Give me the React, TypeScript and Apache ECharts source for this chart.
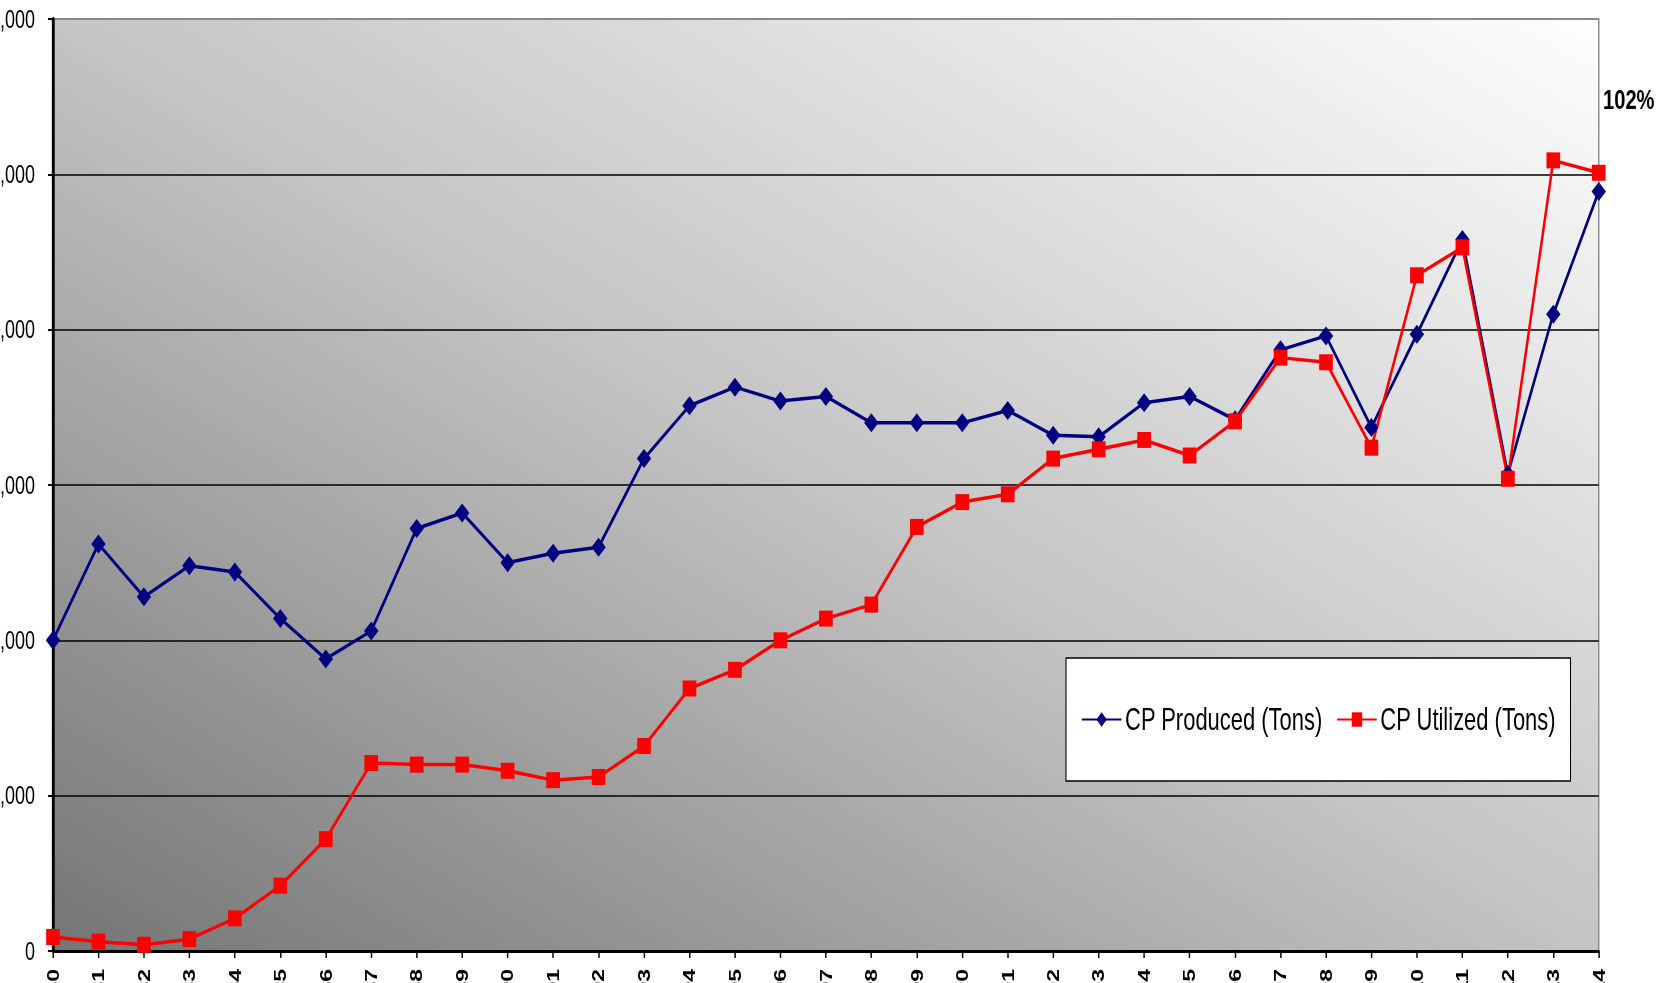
import React, { useEffect, useRef } from "react";
import * as echarts from "echarts";

// Horizontal squeeze of the whole figure (the chart is laid out wide, then compressed).
const SQUEEZE = 0.72;
const PAGE_W = 1662;
const PAGE_H = 983;
const CHART_W = PAGE_W / SQUEEZE;

const FONT = "'Liberation Sans', Arial, Helvetica, sans-serif";

const years = [
  "1980", "1981", "1982", "1983", "1984", "1985", "1986", "1987", "1988", "1989",
  "1990", "1991", "1992", "1993", "1994", "1995", "1996", "1997", "1998", "1999",
  "2000", "2001", "2002", "2003", "2004", "2005", "2006", "2007", "2008", "2009",
  "2010", "2011", "2012", "2013", "2014",
];

const cpProduced = [
  10000, 13100, 11400, 12400, 12200, 10700, 9400, 10300, 13600, 14100,
  12500, 12800, 13000, 15850, 17550, 18150, 17700, 17850, 17000, 17000,
  17000, 17400, 16600, 16550, 17650, 17850, 17100, 19350, 19800, 16850,
  19850, 22900, 15350, 20500, 24450,
];

const cpUtilized = [
  450, 300, 200, 380, 1050, 2100, 3600, 6050, 6000, 6000,
  5800, 5500, 5600, 6600, 8450, 9050, 10000, 10700, 11150, 13650,
  14450, 14700, 15850, 16150, 16450, 15950, 17050, 19100, 18950, 16200,
  21750, 22650, 15200, 25450, 25050,
];

const yMin = 0;
const yMax = 30000;
const yStep = 5000;

const seriesNames = ["CP Produced (Tons)", "CP Utilized (Tons)"];

export default function App() {
  const ref = useRef<HTMLDivElement>(null);

  useEffect(() => {
    if (!ref.current) return;
    const chart = echarts.init(ref.current, null, { renderer: "svg" });

    const last = years.length - 1;
    const ratio = Math.round((cpUtilized[last] / cpProduced[last]) * 100);

    const plotLeft = 53 / SQUEEZE;
    const plotRight = 1599 / SQUEEZE;

    chart.setOption({
      animation: false,
      grid: {
        left: plotLeft,
        right: CHART_W - plotRight,
        top: 19,
        bottom: PAGE_H - 951,
        containLabel: false,
        outerBoundsMode: "none",
        show: true,
        borderColor: "#8a8a8a",
        borderWidth: 2,
        backgroundColor: new echarts.graphic.LinearGradient(0, 1, 1, 0, [
          { offset: 0, color: "#757575" },
          { offset: 0.5, color: "#c4c4c4" },
          { offset: 1, color: "#fefefe" },
        ]),
      },
      legend: {
        data: seriesNames,
        left: 1066 / SQUEEZE,
        top: 658,
        orient: "horizontal",
        padding: [46, 20, 46, 21],
        itemGap: 19,
        itemWidth: 55,
        itemHeight: 18,
        backgroundColor: "#ffffff",
        borderColor: "#000000",
        borderWidth: 1.5,
        textStyle: { fontSize: 30.5, color: "#000000", fontFamily: FONT },
      },
      xAxis: {
        type: "category",
        data: years,
        boundaryGap: false,
        axisLine: { lineStyle: { color: "#000000", width: 3 } },
        axisTick: { show: true, length: 7, lineStyle: { color: "#000000", width: 2 } },
        axisLabel: {
          rotate: 90,
          margin: 18,
          interval: 0,
          fontSize: 23,
          fontWeight: "bold",
          color: "#000000",
          fontFamily: FONT,
        },
        splitLine: { show: false },
      },
      yAxis: {
        type: "value",
        min: yMin,
        max: yMax,
        interval: yStep,
        axisLine: { show: true, lineStyle: { color: "#000000", width: 4 } },
        axisTick: { show: true, length: 7, lineStyle: { color: "#000000", width: 2 } },
        axisLabel: {
          margin: 25,
          fontSize: 25,
          color: "#000000",
          fontFamily: FONT,
          formatter: (v: number) => v.toLocaleString("en-US"),
        },
        splitLine: {
          show: true,
          showMinLine: false,
          showMaxLine: false,
          lineStyle: { color: "#000000", width: 1.5 },
        },
      },
      series: [
        {
          name: seriesNames[0],
          type: "line",
          data: cpProduced,
          symbol: "diamond",
          symbolSize: [20, 19],
          color: "#000080",
          lineStyle: { color: "#000080", width: 3.5 },
          itemStyle: { color: "#000080" },
        },
        {
          name: seriesNames[1],
          type: "line",
          data: cpUtilized,
          symbol: "rect",
          symbolSize: [19, 16],
          color: "#ff0000",
          lineStyle: { color: "#ff0000", width: 3.5 },
          itemStyle: { color: "#ff0000" },
        },
      ],
      graphic: [
        {
          type: "text",
          x: 1603 / SQUEEZE,
          y: 99,
          style: {
            text: `${ratio}%`,
            fontSize: 28,
            fontWeight: "bold",
            fill: "#000000",
            fontFamily: FONT,
            verticalAlign: "middle",
          },
        },
      ],
    });

    return () => chart.dispose();
  }, []);

  return (
    <div
      ref={ref}
      style={{
        position: "fixed",
        left: 0,
        top: 0,
        width: CHART_W,
        height: PAGE_H,
        transform: `scaleX(${SQUEEZE})`,
        transformOrigin: "0 0",
      }}
    />
  );
}
